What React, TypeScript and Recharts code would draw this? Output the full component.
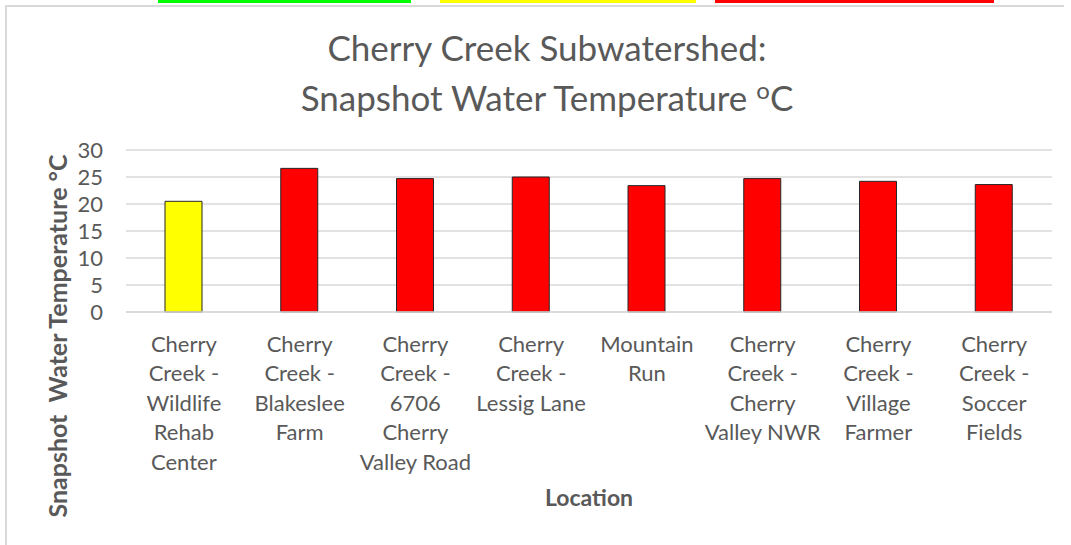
import { BarChart, Bar, XAxis, YAxis, CartesianGrid, Cell } from "recharts";

const locations = [
  "Cherry\nCreek -\nWildlife\nRehab\nCenter",
  "Cherry\nCreek -\nBlakeslee\nFarm",
  "Cherry\nCreek -\n6706\nCherry\nValley Road",
  "Cherry\nCreek -\nLessig Lane",
  "Mountain\nRun",
  "Cherry\nCreek -\nCherry\nValley NWR",
  "Cherry\nCreek -\nVillage\nFarmer",
  "Cherry\nCreek -\nSoccer\nFields",
];

const temperatures = [20.5, 26.6, 24.7, 25.0, 23.4, 24.7, 24.2, 23.6];

const barColors = [
  "#ffff00",
  "#ff0000",
  "#ff0000",
  "#ff0000",
  "#ff0000",
  "#ff0000",
  "#ff0000",
  "#ff0000",
];

const yTicks = [0, 5, 10, 15, 20, 25, 30];

const data = locations.map((name, i) => ({ name, temp: temperatures[i] }));

const FONT = "Lato, 'Open Sans', sans-serif";
const GREY = "#595959";

function LocationTick(props: any) {
  const { x, y, payload } = props;
  const lines = String(payload.value).split("\n");
  return (
    <text x={x} y={y} textAnchor="middle" fill={GREY} fontSize={22} fontFamily={FONT}>
      {lines.map((l, i) => (
        <tspan key={i} x={x} y={y + 38 + i * 29.4}>
          {l}
        </tspan>
      ))}
    </text>
  );
}

export default function App() {
  return (
    <div
      style={{
        position: "fixed",
        left: 0,
        top: 0,
        width: 1071,
        height: 545,
        background: "#fff",
        fontFamily: FONT,
        overflow: "hidden",
      }}
    >
      {/* cropped strip from the sheet above */}
      <div style={{ position: "absolute", left: 158, top: 0, width: 253, height: 3, background: "#00ff00" }} />
      <div style={{ position: "absolute", left: 440, top: 0, width: 256, height: 3, background: "#ffff00" }} />
      <div style={{ position: "absolute", left: 715, top: 0, width: 279, height: 3, background: "#ff0000" }} />

      {/* chart frame */}
      <div
        style={{
          position: "absolute",
          left: 5,
          top: 5,
          width: 1057,
          height: 560,
          borderLeft: "2px solid #d9d9d9",
          borderTop: "2px solid #d9d9d9",
        }}
      />

      <div
        style={{
          position: "absolute",
          left: 247,
          width: 600,
          top: 22,
          textAlign: "center",
          color: GREY,
          fontSize: 35,
          lineHeight: "50px",
        }}
      >
        <div>Cherry Creek Subwatershed:</div>
        <div>
          Snapshot Water Temperature{" "}
          <sup style={{ fontSize: 24, verticalAlign: "12px", lineHeight: 0 }}>o</sup>C
        </div>
      </div>

      <BarChart
        width={1071}
        height={545}
        data={data}
        margin={{ top: 150, right: 19, bottom: 33, left: 0 }}
        style={{ position: "absolute", left: 0, top: 0 }}
      >
        <CartesianGrid vertical={false} stroke="#d9d9d9" strokeWidth={1.5} />
        <XAxis
          dataKey="name"
          height={200}
          interval={0}
          tickLine={false}
          tickSize={0}
          axisLine={{ stroke: "#d9d9d9", strokeWidth: 1.5 }}
          tick={<LocationTick />}
        />
        <YAxis
          width={126}
          domain={[0, 30]}
          ticks={yTicks}
          interval={0}
          axisLine={false}
          tickLine={false}
          tickSize={0}
          tickMargin={23}
          tick={{ fill: GREY, fontSize: 22, fontFamily: FONT }}
        />
        <Bar dataKey="temp" barSize={37} stroke="#262626" strokeWidth={1} isAnimationActive={false}>
          {data.map((_, i) => (
            <Cell key={i} fill={barColors[i]} />
          ))}
        </Bar>
      </BarChart>

      <div
        style={{
          position: "absolute",
          left: 489,
          width: 200,
          top: 483,
          textAlign: "center",
          color: GREY,
          fontSize: 23,
          fontWeight: 700,
        }}
      >
        Location
      </div>

      <div
        style={{
          position: "absolute",
          left: 57 - 200,
          top: 336 - 15,
          width: 400,
          height: 30,
          lineHeight: "30px",
          textAlign: "center",
          color: GREY,
          fontSize: 25,
          fontWeight: 700,
          whiteSpace: "pre",
          transform: "rotate(-90deg)",
        }}
      >
        {"Snapshot  Water Temperature °C"}
      </div>
    </div>
  );
}
